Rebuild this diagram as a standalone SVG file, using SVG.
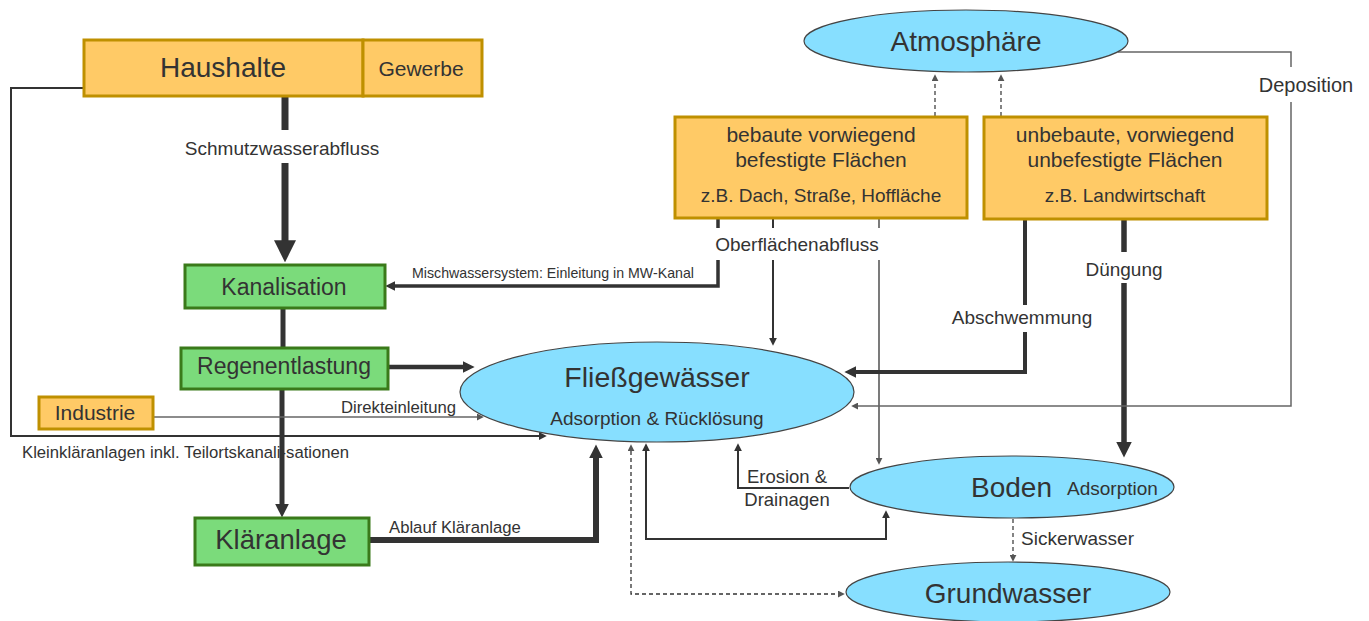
<svg xmlns="http://www.w3.org/2000/svg" width="1369" height="621" viewBox="0 0 1369 621">
<style>
text{font-family:"Liberation Sans",Arial,sans-serif;fill:#333}
.or{fill:#FFCA66;stroke:#BF9000;stroke-width:3}
.gr{fill:#7BDB7B;stroke:#3A7A1A;stroke-width:3}
.bl{fill:#87DFFF;stroke:#444;stroke-width:1.2}
.c{fill:none;stroke:#333;stroke-linejoin:miter}
.g{fill:none;stroke:#666}
.d{stroke-dasharray:4 3}
.mid{text-anchor:middle}
.lbl{font-size:19px}
.sm{font-size:16.7px}
</style>
<defs>
<marker id="m22" viewBox="0 0 10 10" refX="0.3" refY="5" markerUnits="userSpaceOnUse" markerWidth="22" markerHeight="22" orient="auto-start-reverse"><path d="M0,0 L10,5 L0,10 z" fill="#333"/></marker>
<marker id="m16" viewBox="0 0 10 10" refX="0.3" refY="5" markerUnits="userSpaceOnUse" markerWidth="16" markerHeight="16" orient="auto-start-reverse"><path d="M0,0 L10,5 L0,10 z" fill="#333"/></marker>
<marker id="m14" viewBox="0 0 10 10" refX="0.3" refY="5" markerUnits="userSpaceOnUse" markerWidth="14" markerHeight="14" orient="auto-start-reverse"><path d="M0,0 L10,5 L0,10 z" fill="#333"/></marker>
<marker id="m12" viewBox="0 0 10 10" refX="0.3" refY="5" markerUnits="userSpaceOnUse" markerWidth="12" markerHeight="12" orient="auto-start-reverse"><path d="M0,0 L10,5 L0,10 z" fill="#333"/></marker>
<marker id="m10" viewBox="0 0 10 10" refX="0.3" refY="5" markerUnits="userSpaceOnUse" markerWidth="10" markerHeight="10" orient="auto-start-reverse"><path d="M0,0 L10,5 L0,10 z" fill="#333"/></marker>
<marker id="m8" viewBox="0 0 10 10" refX="0.3" refY="5" markerUnits="userSpaceOnUse" markerWidth="8" markerHeight="8" orient="auto-start-reverse"><path d="M0,0 L10,5 L0,10 z" fill="#333"/></marker>
<marker id="m7" viewBox="0 0 10 10" refX="0.3" refY="5" markerUnits="userSpaceOnUse" markerWidth="7" markerHeight="7" orient="auto-start-reverse"><path d="M0,0 L10,5 L0,10 z" fill="#555"/></marker>
</defs>
<rect width="1369" height="621" fill="#fff"/>

<g id="connectors">
  <!-- Haushalte -> Kanalisation -->
  <path class="c" stroke-width="7" d="M285,97 L285,130"/>
  <path class="c" stroke-width="7" d="M285,163 L285,241" marker-end="url(#m22)"/>
  <text class="lbl mid" x="282" y="155">Schmutzwasserabfluss</text>
  <!-- Kanalisation -> Regenentlastung -->
  <path class="c" stroke-width="5" d="M283,308 L283,348"/>
  <!-- Regenentlastung -> Kläranlage -->
  <path class="c" stroke-width="5" d="M282,389 L282,504" marker-end="url(#m14)"/>
  <!-- Regenentlastung -> Fließgewässer -->
  <path class="c" stroke-width="4.5" d="M388,367 L463,367" marker-end="url(#m12)"/>
  <!-- Industrie -> Fließgewässer -->
  <path class="g" stroke-width="1.5" d="M153,417 L477,417" marker-end="url(#m7)"/>
  <text class="sm" x="341" y="413">Direkteinleitung</text>
  <!-- Haushalte -> Fließgewässer (Kleinkläranlagen) -->
  <text class="sm" x="22" y="458">Kleinkläranlagen inkl. Teilortskanali-sationen</text>
  <path class="c" stroke="#444" stroke-width="2" d="M84,88 L11,88 L11,436 L539,436" marker-end="url(#m8)"/>
  <!-- Kläranlage -> Fließgewässer -->
  <path class="c" stroke-width="6" d="M369,540 L596,540 L596,458" marker-end="url(#m14)"/>
  <text class="sm" x="389" y="533">Ablauf Kläranlage</text>
  <!-- bebaute -> Kanalisation (Mischwasser) -->
  <path class="c" stroke-width="3.5" d="M718,218 L718,228"/>
  <path class="c" stroke-width="3.5" d="M718,260 L718,286 L395,286" marker-end="url(#m10)"/>
  <text x="412" y="278" font-size="14.2">Mischwassersystem: Einleitung in MW-Kanal</text>
  <!-- bebaute -> Fließgewässer -->
  <path class="c" stroke-width="2" d="M773,218 L773,228"/>
  <path class="c" stroke-width="2" d="M773,260 L773,338" marker-end="url(#m8)"/>
  <!-- bebaute -> Boden -->
  <path class="c" stroke="#555" stroke-width="1.3" d="M879,218 L879,228"/>
  <path class="c" stroke="#555" stroke-width="1.3" d="M879,260 L879,458" marker-end="url(#m7)"/>
  <text class="lbl mid" x="797" y="251">Oberflächenabfluss</text>
  <!-- unbebaute -> Fließgewässer (Abschwemmung) -->
  <path class="c" stroke-width="4" d="M1025,220 L1025,305"/>
  <path class="c" stroke-width="4" d="M1025,332 L1025,372 L856,372" marker-end="url(#m12)"/>
  <text class="lbl mid" x="1022" y="324">Abschwemmung</text>
  <!-- unbebaute -> Boden (Düngung) -->
  <path class="c" stroke-width="5.5" d="M1124,220 L1124,252"/>
  <path class="c" stroke-width="5.5" d="M1124,283 L1124,442" marker-end="url(#m16)"/>
  <text class="lbl mid" x="1124" y="276">Düngung</text>
  <!-- Atmosphäre -> Fließgewässer (Deposition) -->
  <path class="g" stroke-width="1.5" d="M1118,52 L1291,52 L1291,67"/>
  <path class="g" stroke-width="1.5" d="M1291,102 L1291,406 L858,406" marker-end="url(#m7)"/>
  <text class="mid" x="1306" y="92" font-size="20">Deposition</text>
  <!-- surfaces -> Atmosphäre -->
  <path class="c d" stroke="#555" stroke-width="1.2" d="M935,116 L935,81" marker-end="url(#m7)"/>
  <path class="c d" stroke="#555" stroke-width="1.2" d="M1001,116 L1001,81" marker-end="url(#m7)"/>
  <!-- Boden -> Fließgewässer (Erosion) -->
  <path class="c" stroke-width="2" d="M849,488 L738,488 L738,451" marker-end="url(#m8)"/>
  <text class="mid" x="787" y="483" font-size="18.5">Erosion &amp;</text>
  <text class="mid" x="787" y="506" font-size="18.5">Drainagen</text>
  <!-- Fließgewässer <-> Boden -->
  <path class="c" stroke-width="2" d="M646,451 L646,539 L886,539 L886,518" marker-start="url(#m8)" marker-end="url(#m8)"/>
  <!-- Fließgewässer <-> Grundwasser -->
  <path class="c d" stroke-width="1.3" d="M631,451 L631,594 L838,594" marker-start="url(#m7)" marker-end="url(#m7)"/>
  <!-- Boden -> Grundwasser -->
  <path class="c d" stroke="#555" stroke-width="1.2" d="M1013,519 L1013,555" marker-end="url(#m7)"/>
  <text class="lbl" x="1021" y="545">Sickerwasser</text>
</g>

<g id="haushalte">
  <rect class="or" x="84" y="40" width="279" height="56"/>
  <text class="mid" x="223" y="77" font-size="28">Haushalte</text>
</g>
<g id="gewerbe">
  <rect class="or" x="363" y="40" width="119" height="56"/>
  <text class="mid" x="421" y="76" font-size="21">Gewerbe</text>
</g>
<g id="kanalisation">
  <rect class="gr" x="185" y="265" width="200" height="43"/>
  <text class="mid" x="284" y="295" font-size="23">Kanalisation</text>
</g>
<g id="regenentlastung">
  <rect class="gr" x="181" y="348" width="207" height="41"/>
  <text class="mid" x="284" y="374" font-size="23">Regenentlastung</text>
</g>
<g id="industrie">
  <rect class="or" x="39" y="397" width="114" height="32"/>
  <text class="mid" x="95" y="420" font-size="21">Industrie</text>
</g>
<g id="klaeranlage">
  <rect class="gr" x="195" y="518" width="174" height="47"/>
  <text class="mid" x="281" y="549" font-size="27.5">Kläranlage</text>
</g>
<g id="bebaute">
  <rect class="or" x="675" y="117" width="292" height="101"/>
  <text class="mid" x="821" y="142" font-size="21">bebaute vorwiegend</text>
  <text class="mid" x="821" y="167" font-size="21">befestigte Flächen</text>
  <text class="mid" x="821" y="202" font-size="19">z.B. Dach, Straße, Hoffläche</text>
</g>
<g id="unbebaute">
  <rect class="or" x="984" y="117" width="283" height="102"/>
  <text class="mid" x="1125" y="142" font-size="21">unbebaute, vorwiegend</text>
  <text class="mid" x="1125" y="167" font-size="21">unbefestigte Flächen</text>
  <text class="mid" x="1125" y="202" font-size="19">z.B. Landwirtschaft</text>
</g>
<g id="atmosphaere">
  <ellipse class="bl" cx="966" cy="41" rx="162" ry="31"/>
  <text class="mid" x="966" y="51" font-size="28">Atmosphäre</text>
</g>
<g id="fliessgewaesser">
  <ellipse class="bl" cx="657" cy="392" rx="197" ry="50"/>
  <text class="mid" x="657" y="387" font-size="28.5">Fließgewässer</text>
  <text class="mid" x="657" y="425" font-size="19">Adsorption &amp; Rücklösung</text>
</g>
<g id="boden">
  <ellipse class="bl" cx="1012" cy="487" rx="162" ry="31"/>
  <text x="971" y="497" font-size="28">Boden</text>
  <text x="1067" y="495" font-size="19">Adsorption</text>
</g>
<g id="grundwasser">
  <ellipse class="bl" cx="1008" cy="592" rx="162" ry="30"/>
  <text class="mid" x="1008" y="603" font-size="28">Grundwasser</text>
</g>
</svg>
